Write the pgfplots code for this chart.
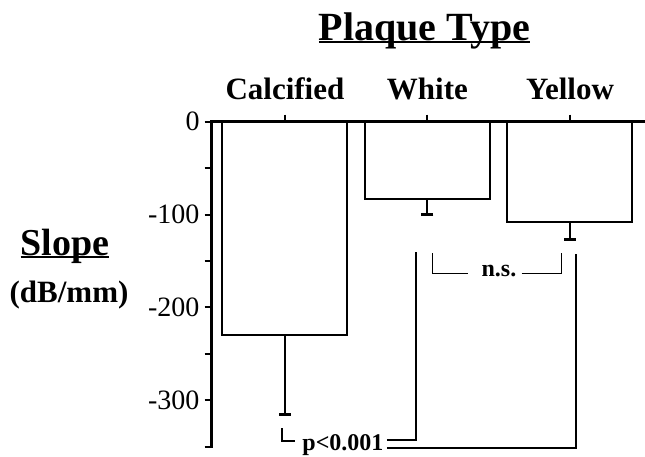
\documentclass[border=0pt]{standalone}
\usepackage{fontspec}
\setmainfont{Liberation Serif}
\usepackage{pgfplots}
\pgfplotsset{compat=1.18}
\newcommand\ul[1]{\setbox0\hbox{#1}\rlap{\rule[-3bp]{\wd0}{1.8bp}}\box0}
\begin{document}
\begin{tikzpicture}
\useasboundingbox (0,0) rectangle (645bp,-457bp);
\begin{axis}[
  at={(211.7bp,-121.7bp)}, anchor=north west,
  x=142.5bp, y=0.9286bp,
  xmin=0.486, xmax=3.526, ymin=-350, ymax=0,
  axis line style={draw=none},
  axis on top,
  xtick pos=right, xticklabel pos=right,
  ytick pos=left, yticklabel pos=left,
  tick align=outside,
  major tick length=7bp, minor tick length=7bp,
  every tick/.style={line width=2bp, black},
  xtick={1,2,3}, xticklabels={Calcified,White,Yellow},
  xticklabel style={font=\fontsize{31bp}{31bp}\selectfont\bfseries, anchor=base, inner sep=0pt, yshift=15.7bp},
  ytick={0,-100,-200,-300}, yticklabels={0,-100,-200,-300},
  minor ytick={-50,-150,-250,-350},
  yticklabel style={font=\fontsize{28bp}{28bp}\selectfont, anchor=east, inner sep=0pt, xshift=-5bp},
  clip=false,
]
\addplot[ybar, bar width=125bp, fill=white, draw=black, line width=2bp]
  coordinates {(1,-230) (2,-83) (3,-108)};
\addplot[draw=none, mark=none, forget plot,
  error bars/.cd, y dir=minus, y explicit,
  error bar style={line width=2bp, draw=black, solid},
  error mark=|,
  error mark options={line width=3bp, mark size=6bp, draw=black, solid}]
  coordinates {(1,-230) +- (0,85) (2,-83) +- (0,17) (3,-108) +- (0,19)};
% axis lines (left and top only)
\draw[line width=2.5bp, line cap=rect] (rel axis cs:0,0) -- (rel axis cs:0,1) -- (rel axis cs:1,1);
% n.s. bracket
\draw[line width=1.2bp] (axis cs:2.034,-141.4) -- (axis cs:2.034,-163.3) -- (axis cs:2.284,-163.3);
\draw[line width=1.2bp] (axis cs:2.661,-163.3) -- (axis cs:2.942,-163.3) -- (axis cs:2.942,-141.4);
\node[anchor=base, inner sep=0pt, font=\fontsize{24bp}{24bp}\selectfont\bfseries] at (axis cs:2.502,-166.9) {n.s.};
% p<0.001 bracket
\draw[line width=1.2bp] (axis cs:0.979,-329.9) -- (axis cs:0.979,-343.9) -- (axis cs:1.070,-343.9);
\node[anchor=base, inner sep=0pt, font=\fontsize{24bp}{24bp}\selectfont\bfseries] at (axis cs:1.407,-353.6) {p<0.001};
\draw[line width=1.2bp] (axis cs:1.716,-342.8) -- (axis cs:1.919,-342.8) -- (axis cs:1.919,-140.3);
\draw[line width=1.2bp] (axis cs:1.716,-351.4) -- (axis cs:3.042,-351.4) -- (axis cs:3.042,-142.5);
\end{axis}
\node[anchor=base, inner sep=0pt, font=\fontsize{40bp}{40bp}\selectfont\bfseries] at (424.5bp,-40bp) {\ul{Plaque Type}};
\node[anchor=base, inner sep=0pt, font=\fontsize{38bp}{38bp}\selectfont\bfseries] at (65bp,-255bp) {\ul{Slope}};
\node[anchor=base, inner sep=0pt, font=\fontsize{31bp}{31bp}\selectfont\bfseries] at (69bp,-302bp) {(dB/mm)};
\end{tikzpicture}
\end{document}
